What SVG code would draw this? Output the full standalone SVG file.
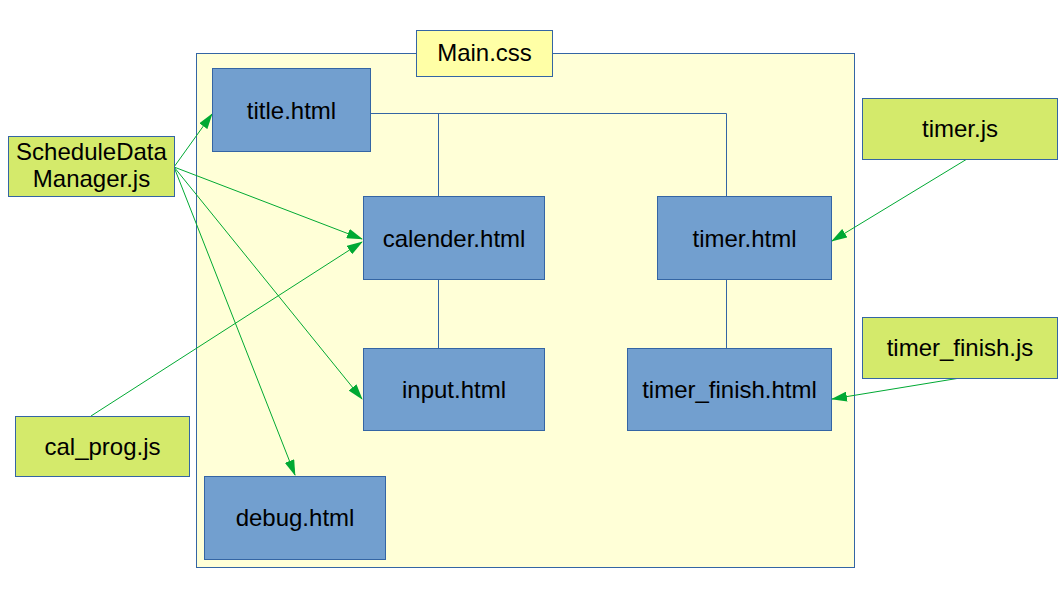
<svg xmlns="http://www.w3.org/2000/svg" width="1058" height="595" viewBox="0 0 1058 595">
<defs>
<style>
.page{fill:#ffffd7;stroke:#3465a4;stroke-width:1}
.css{fill:#ffffa6;stroke:#3465a4;stroke-width:1}
.html{fill:#729fcf;stroke:#3465a4;stroke-width:1}
.js{fill:#d4ea6b;stroke:#3465a4;stroke-width:1}
.t{font-family:"Liberation Sans",Arial,sans-serif;font-size:24px;fill:#000;text-anchor:middle}
.tree{fill:none;stroke:#3465a4;stroke-width:1}
.dep{fill:none;stroke:#00a933;stroke-width:1;marker-end:url(#ah)}
</style>
<marker id="ah" viewBox="0 0 16 10" refX="15" refY="5" markerWidth="16" markerHeight="10" markerUnits="userSpaceOnUse" orient="auto">
<path d="M0,0 L16,5 L0,10 Z" fill="#00a933"/>
</marker>
</defs>
<rect width="1058" height="595" fill="#fff"/>
<g id="main-css-page">
<rect class="page" x="196.5" y="53.5" width="658" height="514"/>
</g>
<g id="main-css">
<rect class="css" x="416.5" y="30.5" width="136" height="46"/>
<text class="t" x="484.5" y="61">Main.css</text>
</g>
<g id="connectors">
<polyline class="tree" points="371,113.5 726.5,113.5 726.5,196"/>
<line class="tree" x1="438.5" y1="113.5" x2="438.5" y2="196"/>
<line class="tree" x1="438.5" y1="280" x2="438.5" y2="348"/>
<line class="tree" x1="726.5" y1="280" x2="726.5" y2="348"/>
<line class="dep" x1="174" y1="167" x2="212" y2="114"/>
<line class="dep" x1="174" y1="167" x2="362" y2="239"/>
<line class="dep" x1="174" y1="167" x2="362" y2="399"/>
<line class="dep" x1="174" y1="167" x2="295" y2="475"/>
<line class="dep" x1="91" y1="416" x2="362" y2="242"/>
<line class="dep" x1="967" y1="159" x2="832" y2="241"/>
<line class="dep" x1="960" y1="378" x2="832" y2="399"/>
</g>
<g id="title-html">
<rect class="html" x="212.5" y="68.5" width="158" height="83"/>
<text class="t" x="291.5" y="118.5">title.html</text>
</g>
<g id="calender-html">
<rect class="html" x="363.5" y="196.5" width="181" height="83"/>
<text class="t" x="454" y="246.5">calender.html</text>
</g>
<g id="input-html">
<rect class="html" x="363.5" y="348.5" width="181" height="82"/>
<text class="t" x="454" y="397.5">input.html</text>
</g>
<g id="timer-html">
<rect class="html" x="657.5" y="196.5" width="174" height="83"/>
<text class="t" x="744.5" y="246.5">timer.html</text>
</g>
<g id="timer-finish-html">
<rect class="html" x="627.5" y="348.5" width="204" height="82"/>
<text class="t" x="729.5" y="397.5">timer_finish.html</text>
</g>
<g id="debug-html">
<rect class="html" x="204.5" y="476.5" width="181" height="83"/>
<text class="t" x="295" y="526">debug.html</text>
</g>
<g id="schedule-data-manager-js">
<rect class="js" x="8.5" y="136.5" width="166" height="60"/>
<text class="t" x="91.5" y="160">ScheduleData</text>
<text class="t" x="91.5" y="187">Manager.js</text>
</g>
<g id="cal-prog-js">
<rect class="js" x="15.5" y="416.5" width="174" height="60"/>
<text class="t" x="102.5" y="454.5">cal_prog.js</text>
</g>
<g id="timer-js">
<rect class="js" x="862.5" y="98.5" width="195" height="61"/>
<text class="t" x="960" y="137">timer.js</text>
</g>
<g id="timer-finish-js">
<rect class="js" x="862.5" y="317.5" width="195" height="61"/>
<text class="t" x="960" y="356">timer_finish.js</text>
</g>
</svg>
